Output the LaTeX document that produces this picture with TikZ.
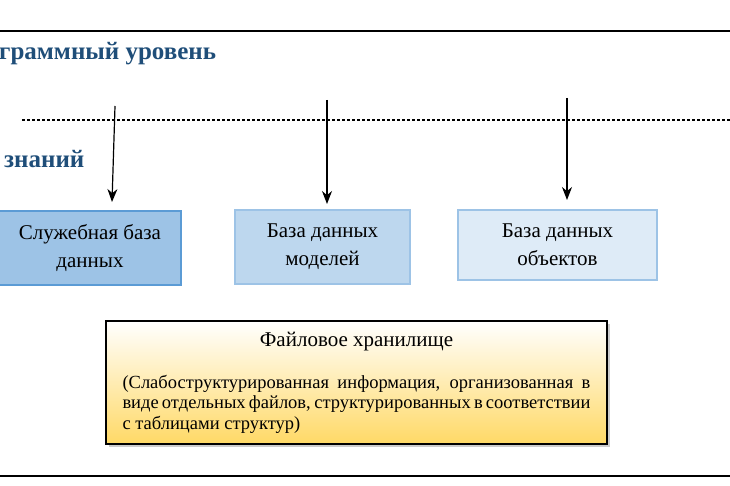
\documentclass[tikz,border=0pt]{standalone}
\usepackage{fontspec}
\setmainfont{Liberation Serif}
\usetikzlibrary{shadows,arrows.meta}
\definecolor{hdr}{HTML}{1F4E79}
\definecolor{bd1}{HTML}{5B9BD5}
\definecolor{bd2}{HTML}{9DC3E6}
\definecolor{f1}{HTML}{9DC3E6}
\definecolor{f2}{HTML}{BDD7EE}
\definecolor{f3}{HTML}{DEEBF7}
\definecolor{gold}{HTML}{FFD966}
\begin{document}
\begin{tikzpicture}[x=1pt,y=-1pt,
  db/.style={draw=#1, line width=1.2pt, minimum height=74pt, align=center, font=\fontsize{21}{28}\selectfont, inner sep=0pt},
  arr/.style={-{Stealth[length=13pt,width=10pt]}, line width=1.2pt},
  lvl/.style={font=\bfseries\fontsize{25}{28}\selectfont, text=hdr, anchor=west, inner sep=0pt}]
\useasboundingbox (0,0) rectangle (730,486);
\draw[line width=1.2pt] (0,31) -- (730,31);
\draw[line width=1.2pt] (0,476) -- (730,476);
\node[lvl] (l1) at (-1,54) {граммный уровень};
\node[lvl] (l2) at (4,159) {знаний};
\draw[line width=2.5pt, dash pattern=on 2.5pt off 2.5pt] (22,120) -- (730,120);
\node[db=bd1, fill=f1, minimum width=182pt] (b1) at (90,248) {Служебная база\\данных};
\node[db=bd2, fill=f2, minimum width=175pt] (b2) at (322.5,247) {База данных\\моделей};
\node[db=bd2, fill=f3, minimum width=199pt, minimum height=70pt] (b3) at (557.5,245) {База данных\\объектов};
\coordinate (s1) at (115,106);
\coordinate (s2) at (327,100);
\coordinate (s3) at (567,98);
\coordinate (e1) at (112,202);
\coordinate (e2) at (327,204);
\coordinate (e3) at (567,200);
\draw[arr] (s1) -- (e1);
\draw[arr] (s2) -- (e2);
\draw[arr] (s3) -- (e3);
\node[draw, line width=1.5pt, minimum width=501pt, minimum height=123pt, top color=white, bottom color=gold, drop shadow={shadow xshift=3pt, shadow yshift=-3pt, fill=black!40}] (fs) at (356.5,382.5) {};
\node[font=\fontsize{21}{24}\selectfont] (ft) at (356.5,342) {Файловое хранилище};
\node[text width=468pt, align=justify, font=\fontsize{18.5}{20.5}\selectfont, inner sep=0pt, anchor=north] (fb) at (356.5,375) {(Слабоструктурированная информация, организованная в виде отдельных файлов, структурированных в соответствии с таблицами структур)};
\end{tikzpicture}
\end{document}
